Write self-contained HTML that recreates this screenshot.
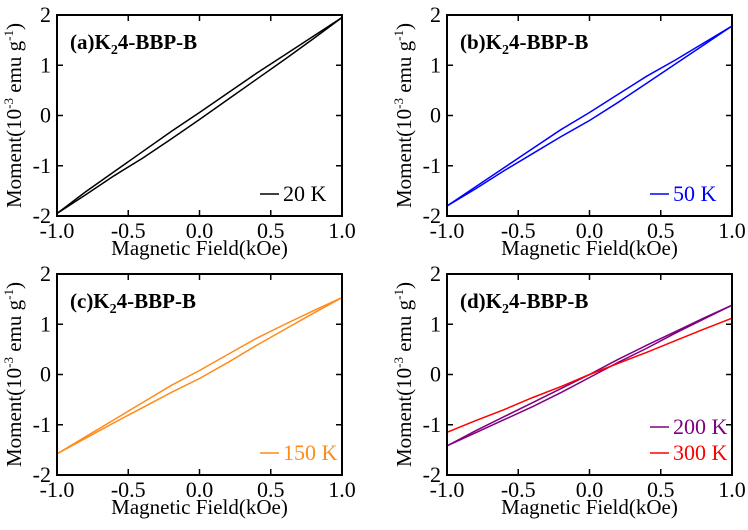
<!DOCTYPE html>
<html><head><meta charset="utf-8"><style>
body{margin:0;background:#fff;width:748px;height:525px;overflow:hidden}
svg, svg text{font-family:"Liberation Serif","DejaVu Serif",serif !important}
</style></head><body>
<svg id="c" width="748" height="525" viewBox="0 0 748 525" font-family="Liberation Serif, serif"></svg>
<script>
const xs = [-1,-0.8,-0.6,-0.4,-0.2,0,0.2,0.4,0.6,0.8,1];
const xTicks = ["-1.0","-0.5","0.0","0.5","1.0"];
const yTicks = [-2,-1,0,1,2];
const aUp = [-1.95,-1.52,-1.12,-0.72,-0.32,0.06,0.45,0.84,1.21,1.58,1.95];
const aDn = [-1.95,-1.58,-1.2,-0.85,-0.47,-0.08,0.32,0.72,1.12,1.53,1.95];
const bUp = [-1.8,-1.42,-1.04,-0.66,-0.28,0.06,0.42,0.78,1.1,1.44,1.78];
const bDn = [-1.8,-1.46,-1.1,-0.76,-0.42,-0.1,0.26,0.64,1.02,1.4,1.78];
const cUp = [-1.58,-1.24,-0.9,-0.56,-0.22,0.08,0.4,0.72,1.0,1.27,1.53];
const cDn = [-1.58,-1.27,-0.96,-0.66,-0.36,-0.08,0.24,0.58,0.9,1.22,1.53];
const dUp200 = [-1.42,-1.12,-0.84,-0.56,-0.28,0.0,0.3,0.58,0.85,1.12,1.38];
const dDn200 = [-1.42,-1.16,-0.9,-0.64,-0.36,-0.06,0.24,0.52,0.82,1.1,1.38];
const d300 = [-1.15,-0.92,-0.7,-0.46,-0.24,0.0,0.22,0.44,0.67,0.9,1.12];
const svg=document.getElementById('c');
const NS='http://www.w3.org/2000/svg';
const FF='Liberation Serif, DejaVu Serif, serif';
function mk(t,a,p){const e=document.createElementNS(NS,t);for(const k in a)e.setAttribute(k,a[k]);if(t==='text')e.setAttribute('font-family',FF);(p||svg).appendChild(e);return e;}
function panel(id,x0,y0,lab,series,legends){
  const w=285,h=201;
  const g=mk('g',{});
  
  
  const sx=v=>x0+(v+1)/2*w, sy=v=>y0+h-(v+2)/4*h;
  series.forEach((s,i)=>{
    const p=mk('polyline',{points:xs.map((x,j)=>sx(x)+','+sy(s.v[j])).join(' '),fill:'none',stroke:s.c,'stroke-width':1.5},g);
    
    
  });
  const r=mk('rect',{x:x0,y:y0,width:w,height:h,fill:'none',stroke:'#000','stroke-width':2},g);
  
  
  xTicks.forEach(t=>{const v=parseFloat(t),X=sx(v);
    mk('line',{x1:X,x2:X,y1:y0+h,y2:y0+h-6,stroke:'#000','stroke-width':1.5},g);
    mk('line',{x1:X,x2:X,y1:y0,y2:y0+6,stroke:'#000','stroke-width':1.5},g);
    const tx=mk('text',{x:X,y:y0+h+22,'font-size':22,'text-anchor':'middle'},g);tx.textContent=t;
    
    });
  yTicks.forEach(v=>{const Y=sy(v);
    mk('line',{x1:x0,x2:x0+6,y1:Y,y2:Y,stroke:'#000','stroke-width':1.5},g);
    mk('line',{x1:x0+w,x2:x0+w-6,y1:Y,y2:Y,stroke:'#000','stroke-width':1.5},g);
    const tx=mk('text',{x:x0-6,y:Y+7,'font-size':22,'text-anchor':'end'},g);tx.textContent=v;
    
    });
  const xl=mk('text',{x:x0+w/2,y:y0+h+39,'font-size':21,'text-anchor':'middle'},g);xl.textContent='Magnetic Field(kOe)';
  
  
  const yl=mk('text',{x:0,y:0,'font-size':21,'text-anchor':'middle',transform:`translate(${x0-36},${y0+h/2}) rotate(-90)`},g);
  yl.innerHTML='Moment(10<tspan dy="-8" font-size="13">-3</tspan><tspan dy="8"> emu g</tspan><tspan dy="-8" font-size="13">-1</tspan><tspan dy="8">)</tspan>';
  
  
  const tl=mk('text',{x:x0+13,y:y0+34,'font-size':21,'font-weight':'bold'},g);
  tl.innerHTML='<tspan>'+lab+'K</tspan><tspan dy="5" font-size="14">2</tspan><tspan dy="-5">4-BBP-B</tspan>';
  
  
  legends.forEach((L,i)=>{const Y=y0+h-22-(legends.length-1-i)*26;
    mk('line',{x1:x0+w-82,x2:x0+w-63,y1:Y,y2:Y,stroke:L.c,'stroke-width':1.5},g);
    const t=mk('text',{x:x0+w-59,y:Y+7,'font-size':22,fill:L.c},g);t.textContent=L.t;
    
    });
}
panel('a',57,15,'(a)',[{v:aUp,c:'#000'},{v:aDn,c:'#000'}],[{t:'20 K',c:'#000'}]);
panel('b',447,15,'(b)',[{v:bUp,c:'#0000ff'},{v:bDn,c:'#0000ff'}],[{t:'50 K',c:'#0000ff'}]);
panel('c',57,274,'(c)',[{v:cUp,c:'#ff8c1a'},{v:cDn,c:'#ff8c1a'}],[{t:'150 K',c:'#ff8c1a'}]);
panel('d',447,274,'(d)',[{v:dUp200,c:'#800080'},{v:dDn200,c:'#800080'},{v:d300,c:'#ff0000'}],[{t:'200 K',c:'#800080'},{t:'300 K',c:'#ff0000'}]);
</script>
</body></html>
